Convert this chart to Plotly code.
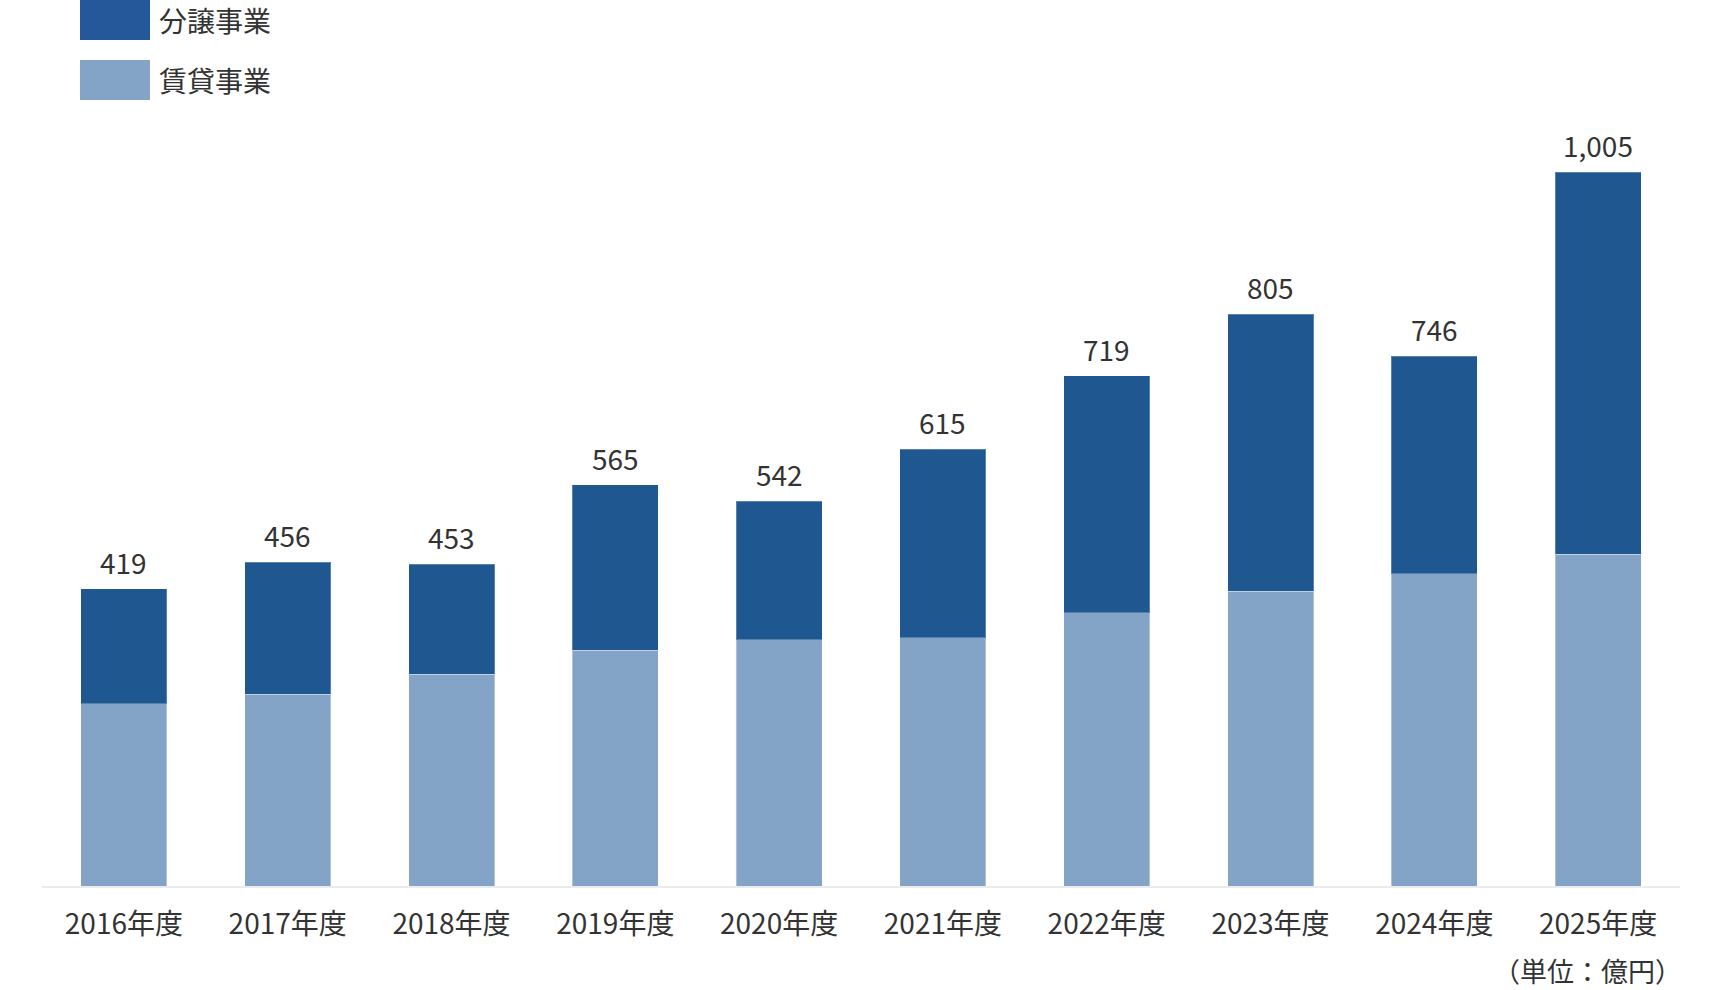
import plotly.graph_objects as go

categories = ["2016年度", "2017年度", "2018年度", "2019年度", "2020年度",
              "2021年度", "2022年度", "2023年度", "2024年度", "2025年度"]
rental = [257, 270, 298, 332, 347, 350, 385, 415, 440, 467]      # 賃貸事業
sales = [162, 186, 155, 233, 195, 265, 334, 390, 306, 538]       # 分譲事業
totals = [419, 456, 453, 565, 542, 615, 719, 805, 746, 1005]
total_labels = ["419", "456", "453", "565", "542", "615", "719", "805", "746", "1,005"]

DARK = "#1f5890"
LIGHT = "#83a4c7"
TEXT = "#333333"
FONT = "Noto Sans CJK JP"

W, H = 1724, 990
ML, MR, MT, MB = 42, 44, 100, 104
PW, PH = W - ML - MR, H - MT - MB


def px(x):
    return (x - ML) / PW


def py(y):
    return (H - MB - y) / PH


fig = go.Figure()
fig.add_trace(go.Bar(x=categories, y=rental, name="賃貸事業",
                     marker=dict(color=LIGHT, line=dict(color="rgba(255,255,255,0.35)", width=1)),
                     hoverinfo="skip"))
fig.add_trace(go.Bar(x=categories, y=sales, name="分譲事業",
                     marker=dict(color=DARK, line=dict(color="rgba(255,255,255,0.25)", width=1)),
                     hoverinfo="skip"))

annotations = []
for c, t, lab in zip(categories, totals, total_labels):
    annotations.append(dict(x=c, y=t, xref="x", yref="y", text=lab, showarrow=False,
                            yanchor="bottom", yshift=5,
                            font=dict(family=FONT, size=28, color=TEXT)))

# legend (manual)
shapes = [
    dict(type="rect", xref="paper", yref="paper", x0=px(80), x1=px(150), y0=py(40), y1=py(0),
         fillcolor="#24589a", line=dict(width=0)),
    dict(type="rect", xref="paper", yref="paper", x0=px(80), x1=px(150), y0=py(100), y1=py(60),
         fillcolor=LIGHT, line=dict(width=0)),
]
annotations.append(dict(xref="paper", yref="paper", x=px(157), y=py(20), text="分譲事業",
                        showarrow=False, xanchor="left", yanchor="middle",
                        font=dict(family=FONT, size=28, color=TEXT)))
annotations.append(dict(xref="paper", yref="paper", x=px(157), y=py(80), text="賃貸事業",
                        showarrow=False, xanchor="left", yanchor="middle",
                        font=dict(family=FONT, size=28, color=TEXT)))
annotations.append(dict(xref="paper", yref="paper", x=px(1684), y=py(970), text="（単位：億円）",
                        showarrow=False, xanchor="right", yanchor="middle",
                        font=dict(family=FONT, size=27, color=TEXT)))

fig.update_layout(
    width=W, height=H,
    margin=dict(l=ML, r=MR, t=MT, b=MB),
    barmode="stack", bargap=0.475,
    plot_bgcolor="white", paper_bgcolor="white",
    showlegend=False,
    shapes=shapes, annotations=annotations,
    font=dict(family=FONT, color=TEXT),
    xaxis=dict(showline=True, linecolor="#ebebeb", linewidth=2, ticks="",
               tickfont=dict(family=FONT, size=28, color=TEXT),
               ticklabelstandoff=12, range=[-0.5, 9.5], fixedrange=True),
    yaxis=dict(range=[0, PH / 0.71], visible=False, showgrid=False, zeroline=False,
               fixedrange=True),
)

fig.write_html("out.html", config={"displayModeBar": False})
